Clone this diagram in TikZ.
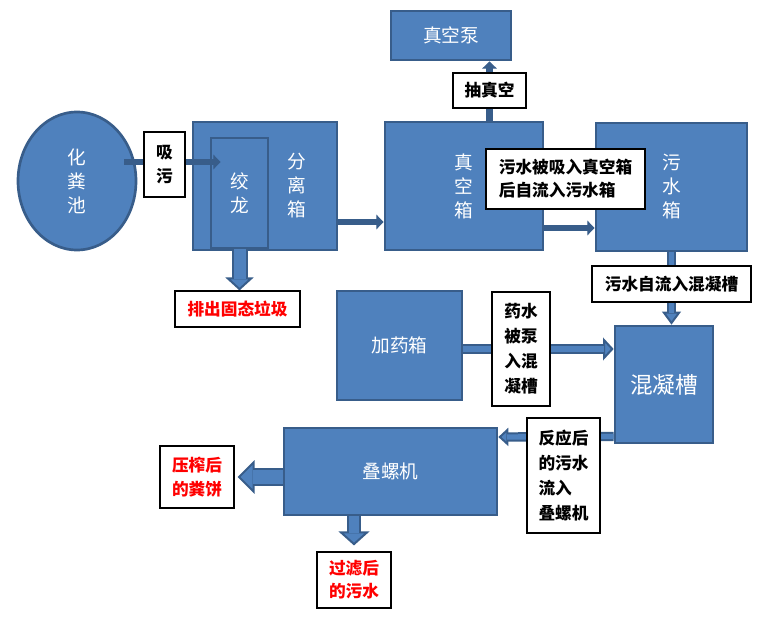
\documentclass[tikz,border=0pt]{standalone}
\usepackage{fontspec}
\setmainfont{Noto Sans CJK SC}
\usetikzlibrary{arrows.meta,positioning,shapes.geometric,calc}
\definecolor{boxblue}{HTML}{4F81BD}
\definecolor{boxedge}{HTML}{385D8A}
\definecolor{alarm}{HTML}{FF0000}
\pgfdeclarelayer{front}
\pgfsetlayers{main,front}
\tikzset{
  unit/.style={rectangle,draw=boxedge,line width=2pt,fill=boxblue,text=white,align=center,inner sep=0pt,font=\fontsize{14}{18}\selectfont},
  note/.style={rectangle,draw=black,line width=0.8pt,fill=white,align=center,inner sep=0pt,font=\fontsize{12.5}{18}\selectfont\bfseries},
  rednote/.style={note,text=alarm},
  pipe/.style n args={3}{draw=boxedge,line width=#1,
    -{Triangle[length=#3,width=#2,line width=1.5pt,fill=boxblue]},
    postaction={draw=boxblue,line width=#1-3pt,shorten >=#3-1pt,arrows=-}},
  duct/.style={draw=boxedge,line width=5pt,
    -{Triangle[length=5.5pt,width=11pt,line width=0.8pt,fill=boxedge]}}
}
\begin{document}
\begin{tikzpicture}[x=0.75pt,y=-0.75pt]
  \useasboundingbox (0,0) rectangle (776,621);
  % blue units
  \node[unit,ellipse,minimum width=88.5pt,minimum height=103.5pt] (pool) at (77,181) {化\\粪\\池};
  \node[unit,minimum width=108pt,minimum height=96pt,text width=62pt,inner xsep=23pt,align=right] (sep) at (265,186) {分\\离\\箱};
  \node[unit,minimum width=42.75pt,minimum height=82.5pt] (auger) at (239.5,193) {绞\\龙};
  \node[unit,minimum width=118.5pt,minimum height=96pt] (vac) at (464,186) {真\\空\\箱};
  \node[unit,minimum width=90pt,minimum height=36.75pt] (pump) at (451,35.5) {真空泵};
  \node[unit,minimum width=113.25pt,minimum height=96pt] (tank) at (671.5,187) {污\\水\\箱};
  \node[unit,minimum width=93.75pt,minimum height=81.75pt] (dose) at (399.5,345.5) {加药箱};
  \node[unit,minimum width=73.5pt,minimum height=87.75pt,font=\fontsize{17}{20}\selectfont] (mix) at (664,384.5) {混凝槽};
  \node[unit,minimum width=159.75pt,minimum height=65.25pt] (press) at (390.5,471.5) {叠螺机};
  % labels on top
  \begin{pgfonlayer}{front}
    \node[note,minimum width=30.75pt,minimum height=48.75pt] (suck) at (164.5,164.5) {吸\\污};
    \node[rednote,minimum width=93.75pt,minimum height=27pt] (waste) at (237.5,309) {排出固态垃圾};
    \node[note,minimum width=54.75pt,minimum height=26.25pt] (vacl) at (489.5,90.5) {抽真空};
    \node[note,minimum width=119.25pt,minimum height=45pt,align=left,font=\fontsize{12.5}{17.25}\selectfont\bfseries] (flow1) at (565.5,179) {污水被吸入真空箱\\后自流入污水箱};
    \node[note,minimum width=119.25pt,minimum height=27pt] (flow2) at (671.5,284) {污水自流入混凝槽};
    \node[note,minimum width=43.5pt,minimum height=85.5pt,font=\fontsize{12.5}{18.75}\selectfont\bfseries] (drug) at (521,349) {药水\\被泵\\入混\\凝槽};
    \node[note,minimum width=54.75pt,minimum height=86.25pt,align=left,font=\fontsize{12.5}{18.75}\selectfont\bfseries] (react) at (563.5,475.5) {反应后\\的污水\\流入\\叠螺机};
    \node[rednote,minimum width=55.5pt,minimum height=46.5pt] (cake) at (197,477) {压榨后\\的粪饼};
    \node[rednote,minimum width=55.5pt,minimum height=42pt,font=\fontsize{12.5}{17.25}\selectfont\bfseries] (filt) at (354,580) {过滤后\\的污水};
  \end{pgfonlayer}
  % flows
  \draw[duct] ($(pool.center)+(47,-19)$) -- ($(auger.west)+(11,-31)$);
  \draw[pipe={12pt}{21pt}{9.75pt}] (auger.south) -- (auger.south |- waste.north);
  \draw[duct] ($(sep.east)+(0,36)$) -- ($(vac.west)+(0,36)$);
  \draw[duct] (vac.north -| vacl) -- (pump.south -| vacl);
  \draw[duct] ($(vac.east)+(0,42)$) -- ($(tank.west)+(0,41)$);
  \draw[pipe={7pt}{14pt}{9.75pt}] (tank.south) -- (tank.south |- mix.north);
  \draw[pipe={7pt}{17pt}{8pt}] (dose.east |- drug) -- (mix.west |- drug);
  \draw[pipe={7pt}{13.5pt}{7.5pt}] ($(mix.west)+(0,52)$) -- ($(press.east)+(0,-34.5)$);
  \draw[pipe={14pt}{25pt}{12.75pt}] (press.west |- cake) -- ($(cake.east)+(3,0)$);
  \draw[pipe={10.5pt}{23pt}{10.5pt}] (press.south -| filt) -- ($(filt.north)+(0,-6)$);
\end{tikzpicture}
\end{document}
